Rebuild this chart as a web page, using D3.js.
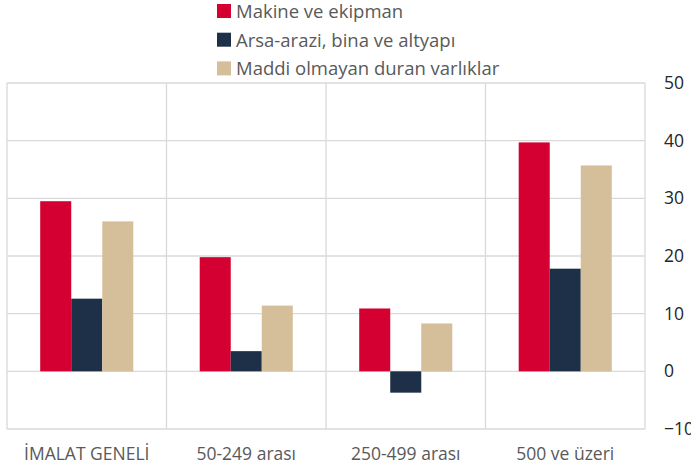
<!DOCTYPE html>
<html>
<head>
<meta charset="utf-8">
<style>
  body { margin: 0; background: #fff; }
  text { font-family: "Open Sans", "Noto Sans", sans-serif; }
</style>
</head>
<body>
<svg width="691" height="468" id="chart"></svg>
<script src="https://cdn.jsdelivr.net/npm/d3@7"></script>
<script>
const categories = ['İMALAT GENELİ', '50-249 arası', '250-499 arası', '500 ve üzeri']
const seriesNames = ['Makine ve ekipman', 'Arsa-arazi, bina ve altyapı', 'Maddi olmayan duran varlıklar']
const makine = [29.5, 19.8, 10.9, 39.7]
const arsa = [12.6, 3.5, -3.7, 17.8]
const maddi = [26.0, 11.4, 8.3, 35.7]
const yTicks = [-10, 0, 10, 20, 30, 40, 50]
const colors = ['#d50032', '#1d3047', '#d5be9a']

const series = [makine, arsa, maddi]

const svg = d3.select('#chart')
const plotL = 7, plotR = 645, plotT = 83, plotB = 429

const x = d3.scaleBand().domain(categories).range([plotL, plotR])
const xs = d3.scaleBand().domain(d3.range(series.length)).range([0, x.bandwidth()]).paddingInner(0).paddingOuter(1.07)
const y = d3.scaleLinear().domain([-10, 50]).range([plotB, plotT])

// grid
const grid = svg.append('g').attr('stroke', '#d9d9d9').attr('stroke-width', 1.3)
grid.selectAll('line.h').data(yTicks).enter().append('line')
  .attr('x1', plotL).attr('x2', plotR)
  .attr('y1', d => y(d)).attr('y2', d => y(d))
grid.selectAll('line.v').data(categories.concat([null])).enter().append('line')
  .attr('x1', (d, i) => i < categories.length ? x(d) : plotR)
  .attr('x2', (d, i) => i < categories.length ? x(d) : plotR)
  .attr('y1', plotT).attr('y2', plotB)

// bars
series.forEach((vals, s) => {
  svg.append('g').selectAll('rect').data(vals).enter().append('rect')
    .attr('x', (d, i) => x(categories[i]) + xs(s))
    .attr('width', xs.bandwidth())
    .attr('y', d => y(Math.max(0, d)))
    .attr('height', d => Math.abs(y(d) - y(0)))
    .attr('fill', colors[s])
})

// right axis
const yAxis = d3.axisRight(y).tickValues(yTicks).tickSize(0).tickPadding(19)
svg.append('g').attr('transform', 'translate(' + plotR + ',0)').call(yAxis)
  .call(g => g.select('.domain').remove())
  .call(g => g.selectAll('text').attr('font-size', 17.5).attr('fill', '#262626')
    .attr('font-family', '"Open Sans", sans-serif'))

// category labels
svg.append('g').selectAll('text').data(categories).enter().append('text')
  .attr('x', d => x(d) + x.bandwidth() / 2)
  .attr('y', 460)
  .attr('text-anchor', 'middle')
  .attr('font-size', 17.5)
  .attr('fill', '#595959')
  .text(d => d)

// legend
const legend = svg.append('g').selectAll('g').data(seriesNames).enter().append('g')
  .attr('transform', (d, i) => 'translate(217,' + (4 + i * 28.7) + ')')
legend.append('rect').attr('width', 14).attr('height', 14).attr('fill', (d, i) => colors[i])
legend.append('text').attr('x', 19).attr('y', 14)
  .attr('font-size', 18.5).attr('fill', '#595959').text(d => d)
</script>
</body>
</html>
